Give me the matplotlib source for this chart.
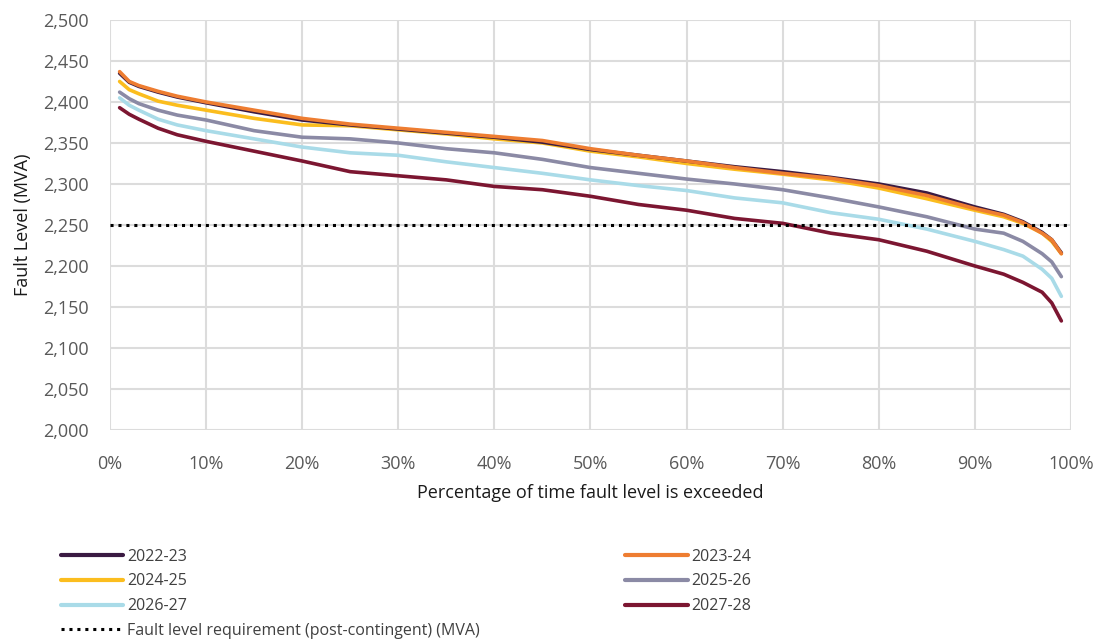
import matplotlib
matplotlib.use("Agg")
import matplotlib.pyplot as plt
from matplotlib.ticker import FuncFormatter

plt.rcParams['font.family'] = ['Open Sans', 'DejaVu Sans']

pct = [1, 2, 3, 5, 7, 10, 15, 20, 25, 30, 35, 40, 45, 50, 55, 60, 65, 70, 75, 80,
       85, 90, 93, 95, 97, 98, 99]

fy_2022_23 = [2435, 2424, 2419, 2412, 2406, 2399, 2388, 2378, 2372, 2367, 2362, 2357, 2351, 2342,
              2335, 2328, 2321, 2315, 2308, 2300, 2289, 2272, 2263, 2254, 2241, 2232, 2216]
fy_2023_24 = [2437, 2425, 2420, 2413, 2407, 2400, 2390, 2380, 2373, 2368, 2363, 2358, 2353, 2343,
              2335, 2328, 2320, 2313, 2307, 2298, 2286, 2270, 2262, 2253, 2240, 2232, 2215]
fy_2024_25 = [2425, 2415, 2410, 2401, 2396, 2390, 2380, 2372, 2371, 2366, 2361, 2355, 2350, 2340,
              2333, 2325, 2318, 2312, 2305, 2295, 2282, 2268, 2260, 2252, 2240, 2230, 2215]
fy_2025_26 = [2412, 2404, 2398, 2390, 2384, 2378, 2365, 2357, 2355, 2350, 2343, 2338, 2330, 2320,
              2313, 2306, 2300, 2293, 2283, 2272, 2260, 2245, 2240, 2230, 2215, 2205, 2187]
fy_2026_27 = [2405, 2396, 2390, 2379, 2372, 2365, 2355, 2345, 2338, 2335, 2327, 2320, 2313, 2305,
              2298, 2292, 2283, 2277, 2265, 2257, 2245, 2230, 2220, 2212, 2196, 2185, 2163]
fy_2027_28 = [2393, 2385, 2379, 2368, 2360, 2352, 2340, 2328, 2315, 2310, 2305, 2297, 2293, 2285,
              2275, 2268, 2258, 2252, 2240, 2232, 2218, 2200, 2190, 2180, 2168, 2155, 2133]

requirement = 2250
series_names = ['2022-23', '2023-24', '2024-25', '2025-26', '2026-27', '2027-28']
series_vals = [fy_2022_23, fy_2023_24, fy_2024_25, fy_2025_26, fy_2026_27, fy_2027_28]
colors = ['#3a1a42', '#ee7d31', '#fbbd1e', '#8b8aa5', '#a9dbe8', '#7c1631']
req_label = 'Fault level requirement (post-contingent) (MVA)'

fig = plt.figure(figsize=(11.09, 6.44), dpi=100)
ax = fig.add_axes([0.0992, 0.3323, 0.8665, 0.6367])

order = [4, 3, 2, 0, 1, 5]
handles = {}
for i in order:
    h, = ax.plot(pct, series_vals[i], color=colors[i], lw=2.6, solid_capstyle='round',
                 zorder=3 + (1 if i == 1 else 0))
    handles[i] = h
req_h = ax.axhline(requirement, color='black', lw=2.2, ls=(0, (1, 1.6)), zorder=5)

ax.set_xlim(0, 100)
ax.set_ylim(2000, 2500)
ax.set_xticks(range(0, 101, 10))
ax.set_yticks(range(2000, 2501, 50))
ax.xaxis.set_major_formatter(FuncFormatter(lambda v, p: f'{int(v)}%'))
ax.yaxis.set_major_formatter(FuncFormatter(lambda v, p: f'{int(v):,}'))
ax.grid(True, color='#dcdcdc', lw=1.5)
ax.set_axisbelow(True)
for s in ax.spines.values():
    s.set_visible(False)
ax.tick_params(length=0, labelsize=13, colors='#595959')
ax.tick_params(axis='x', pad=18)
ax.tick_params(axis='y', pad=15)
ax.set_xlabel('Percentage of time fault level is exceeded', fontsize=13, color='#1a1a1a', labelpad=8)
ax.set_ylabel('Fault Level (MVA)', fontsize=13, color='#1a1a1a', labelpad=8)

leg_kw = dict(frameon=False, fontsize=11.5, handlelength=3.9, handletextpad=0.25,
              labelspacing=0.55, borderaxespad=0, labelcolor='#404040')
leg1 = fig.legend([handles[0], handles[2], handles[4], req_h],
                  [series_names[0], series_names[2], series_names[4], req_label],
                  loc='upper left', bbox_to_anchor=(0.049, 0.158), **leg_kw)
for l in leg1.get_lines():
    l.set_linewidth(3)
leg1.get_lines()[3].set_linewidth(2.2)
leg2 = fig.legend([handles[1], handles[3], handles[5]],
                  [series_names[1], series_names[3], series_names[5]],
                  loc='upper left', bbox_to_anchor=(0.558, 0.158), **leg_kw)
for l in leg2.get_lines():
    l.set_linewidth(3)

fig.savefig('out.png', dpi=100)
